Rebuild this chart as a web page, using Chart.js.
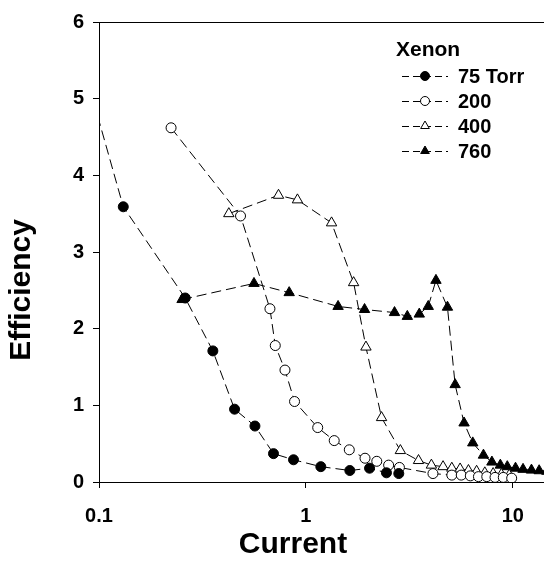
<!DOCTYPE html>
<html>
<head>
<meta charset="utf-8">
<script src="https://cdn.jsdelivr.net/npm/chart.js@4/dist/chart.umd.min.js"></script>
<style>
  html, body { margin: 0; padding: 0; background: #fff; overflow: hidden; }
  #chart { display: block; }
</style>
</head>
<body>
<!-- a little wider than the window: the plot runs off the right edge like the scan -->
<canvas id="chart" width="552" height="566"></canvas>
<script>
// values
const seriesNames = ['75 Torr', '200', '400', '760'];
const legendTitle = 'Xenon';
const xTickValues = [0.1, 1, 10];
const yTickValues = [0, 1, 2, 3, 4, 5, 6];

const x75 = [0.09, 0.131, 0.261, 0.355, 0.452, 0.567, 0.697, 0.871, 1.18, 1.63, 2.03, 2.45, 2.81];
const y75 = [5.15, 3.59, 2.40, 1.71, 0.95, 0.73, 0.37, 0.29, 0.20, 0.15, 0.18, 0.12, 0.11];

const x200 = [0.223, 0.483, 0.670, 0.711, 0.792, 0.881, 1.14, 1.37, 1.62, 1.93, 2.20, 2.51, 2.83, 4.11, 5.07, 5.63, 6.23, 6.82, 7.48, 8.2, 8.99, 9.87];
const y200 = [4.62, 3.47, 2.26, 1.78, 1.46, 1.05, 0.71, 0.54, 0.42, 0.31, 0.27, 0.22, 0.19, 0.11, 0.09, 0.09, 0.08, 0.07, 0.07, 0.06, 0.06, 0.05];

const x400 = [0.424, 0.737, 0.910, 1.33, 1.70, 1.95, 2.32, 2.86, 3.50, 4.04, 4.60, 5.07, 5.56, 6.10, 6.68, 7.32, 8.03, 8.8, 9.6];
const y400 = [3.50, 3.74, 3.68, 3.38, 2.60, 1.76, 0.84, 0.41, 0.28, 0.22, 0.20, 0.18, 0.17, 0.15, 0.14, 0.12, 0.11, 0.10, 0.09];

const x760 = [0.252, 0.561, 0.830, 1.43, 1.92, 2.68, 3.09, 3.53, 3.90, 4.25, 4.83, 5.26, 5.81, 6.40, 7.21, 7.92, 8.7, 9.4, 10.3, 11.2, 12.3, 13.4, 14.6];
const y760 = [2.38, 2.59, 2.47, 2.29, 2.25, 2.21, 2.16, 2.19, 2.29, 2.63, 2.28, 1.27, 0.77, 0.51, 0.35, 0.26, 0.22, 0.20, 0.18, 0.165, 0.155, 0.147, 0.14];

const FONT = '"Liberation Sans", Arial, sans-serif';

function toPoints(xs, ys) {
    return xs.map((x, i) => ({ x: x, y: ys[i] }));
}

function makeSet(label, xs, ys, style, filled) {
    return {
        label: label,
        data: toPoints(xs, ys),
        borderColor: '#000',
        borderWidth: 1,
        borderDash: [10, 5],
        backgroundColor: filled ? '#000' : '#fff',
        pointStyle: style,
        pointRadius: style === 'triangle' ? 6 : 5,
        pointBorderColor: '#000',
        pointBackgroundColor: filled ? '#000' : '#fff',
        pointBorderWidth: 1,
        tension: 0,
        clip: 0
    };
}

// top frame line, axis titles and the legend box
const decorPlugin = {
    id: 'decor',
    afterDraw(chart) {
        const ctx = chart.ctx;
        const area = chart.chartArea;
        ctx.save();
        ctx.strokeStyle = '#000';
        ctx.lineWidth = 1;
        ctx.beginPath();
        ctx.moveTo(area.left, area.top + 0.5);
        ctx.lineTo(area.right, area.top + 0.5);
        ctx.stroke();

        ctx.fillStyle = '#000';
        ctx.font = 'bold 30px ' + FONT;
        ctx.textAlign = 'center';
        ctx.textBaseline = 'middle';
        ctx.fillText('Current', 293, 545);
        ctx.save();
        ctx.translate(22, 290);
        ctx.rotate(-Math.PI / 2);
        ctx.fillText('Efficiency', 0, 0);
        ctx.restore();

        // legend
        ctx.textAlign = 'left';
        ctx.font = 'bold 21px ' + FONT;
        ctx.fillText(legendTitle, 396, 50);
        ctx.font = 'bold 20px ' + FONT;
        chart.data.datasets.forEach((ds, i) => {
            const y = 76 + i * 25;
            ctx.setLineDash([7, 4]);
            ctx.beginPath();
            ctx.moveTo(402, y + 0.5);
            ctx.lineTo(448, y + 0.5);
            ctx.stroke();
            ctx.setLineDash([]);
            ctx.fillStyle = ds.pointBackgroundColor;
            Chart.helpers.drawPoint(ctx, {
                pointStyle: ds.pointStyle,
                radius: ds.pointStyle === 'triangle' ? 5 : 4.5,
                rotation: 0,
                borderWidth: 1
            }, 425, y);
            ctx.fillStyle = '#000';
            ctx.fillText(ds.label, 458, y + 1);
        });
        ctx.restore();
    }
};

new Chart(document.getElementById('chart'), {
    type: 'line',
    data: {
        datasets: [
            makeSet(seriesNames[0], x75, y75, 'circle', true),
            makeSet(seriesNames[1], x200, y200, 'circle', false),
            makeSet(seriesNames[2], x400, y400, 'triangle', false),
            makeSet(seriesNames[3], x760, y760, 'triangle', true)
        ]
    },
    options: {
        responsive: false,
        devicePixelRatio: 1,
        animation: false,
        layout: { padding: { left: 0, top: 22, right: 0, bottom: 0 } },
        plugins: {
            legend: { display: false },
            tooltip: { enabled: false }
        },
        scales: {
            x: {
                type: 'logarithmic',
                min: 0.1,
                max: 14.3,
                afterBuildTicks(scale) {
                    scale.ticks = xTickValues.map(v => ({ value: v }));
                },
                afterFit(scale) { scale.height = 84; },
                ticks: {
                    color: '#000',
                    font: { family: FONT, size: 20, weight: 'bold' },
                    padding: 16,
                    maxRotation: 0,
                    autoSkip: false,
                    callback: (v) => String(v)
                },
                grid: { drawOnChartArea: false, tickLength: 6, color: '#000' },
                border: { color: '#000', width: 1 }
            },
            y: {
                min: 0,
                max: 6,
                afterBuildTicks(scale) {
                    scale.ticks = yTickValues.map(v => ({ value: v }));
                },
                afterFit(scale) { scale.width = 99; },
                ticks: {
                    color: '#000',
                    font: { family: FONT, size: 20, weight: 'bold' },
                    padding: 9,
                    callback: (v) => String(v)
                },
                grid: { drawOnChartArea: false, tickLength: 6, color: '#000' },
                border: { color: '#000', width: 1 }
            }
        }
    },
    plugins: [decorPlugin]
});
</script>
</body>
</html>
